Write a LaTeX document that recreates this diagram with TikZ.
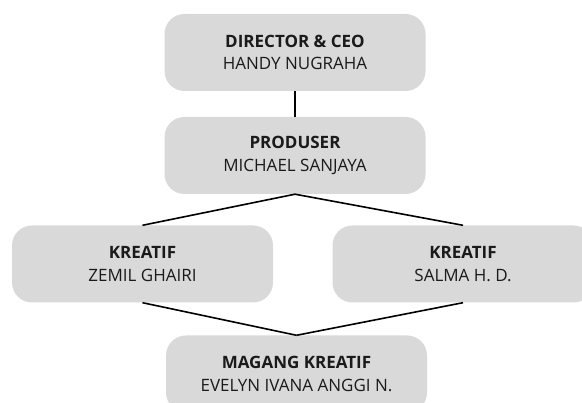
\documentclass[tikz,border=0pt]{standalone}
\usepackage{fontspec}
\setmainfont{Open Sans}
\usetikzlibrary{positioning}
\definecolor{boxgray}{HTML}{D9D9D9}
\definecolor{inkdark}{HTML}{1A1A1A}

\begin{document}
\begin{tikzpicture}[x=1pt, y=-1pt,
  role/.style={fill=boxgray, rounded corners=20pt, minimum width=261pt,
    minimum height=77pt, align=center, text=inkdark,
    font=\fontsize{17}{22.5}\selectfont, inner sep=0pt},
  link/.style={black, line width=1.6pt}]

% Canvas (the picture is cut at the right and bottom edge)
\clip (0,0) rectangle (582,403);
\fill[white] (0,0) rectangle (582,403);

% --- Boxes ---
\node[role] (dir)  at (295,52.5)  {\textbf{DIRECTOR \& CEO}\\HANDY NUGRAHA};
\node[role] (prod) at (295,155.5) {\textbf{PRODUSER}\\MICHAEL SANJAYA};
\node[role] (kreL) at (142.5,264) {\textbf{KREATIF}\\ZEMIL GHAIRI};
\node[role] (kreR) at (463,264)   {\textbf{KREATIF}\\SALMA H. D.};
\node[role] (mag)  at (296.5,374) {\textbf{MAGANG KREATIF}\\EVELYN IVANA ANGGI N.};

% --- Connectors ---
\draw[link] (dir.south) -- (prod.north);
\draw[link] (prod.south) -- (kreL.north);
\draw[link] (prod.south) -- (kreR.north);
\draw[link] (kreL.south) -- (mag.north);
\draw[link] (kreR.south) -- (mag.north);

\end{tikzpicture}
\end{document}
